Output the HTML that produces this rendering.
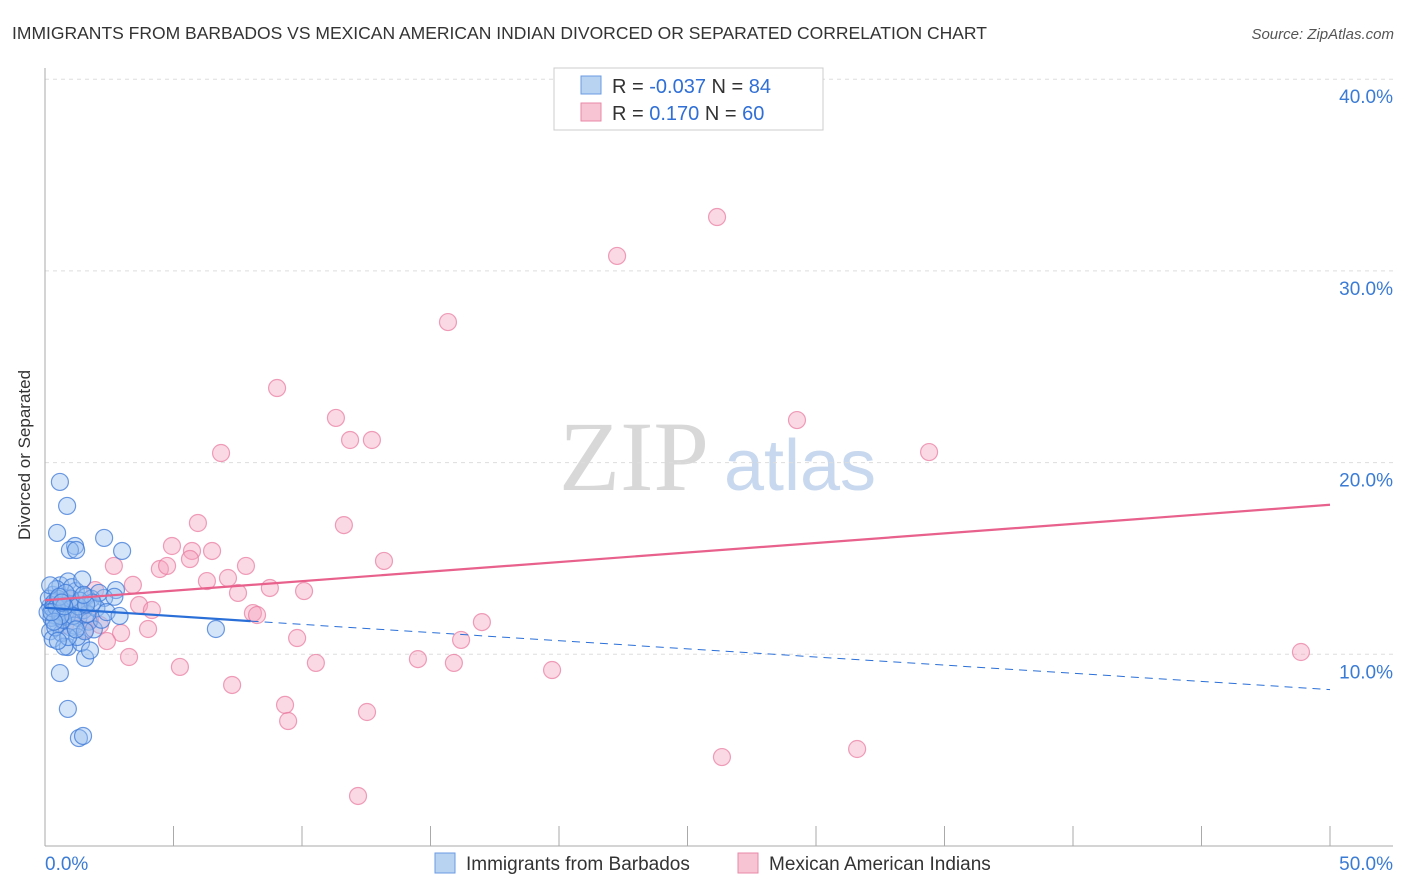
<!DOCTYPE html>
<html><head><meta charset="utf-8"><style>
body{margin:0;background:#fff;font-family:"Liberation Sans",sans-serif}
svg{display:block}
</style></head><body>
<svg id="c" width="1406" height="892" xmlns="http://www.w3.org/2000/svg">
<text x="12" y="39" font-size="17.5" fill="#333">IMMIGRANTS FROM BARBADOS VS MEXICAN AMERICAN INDIAN DIVORCED OR SEPARATED CORRELATION CHART</text>
<text x="1394" y="39" font-size="15" fill="#555" font-style="italic" text-anchor="end">Source: ZipAtlas.com</text>
<text x="634" y="490" font-size="100" fill="#d8d8d8" font-family="Liberation Serif,serif" text-anchor="middle">ZIP</text>
<text x="800" y="490" font-size="72" fill="#c8d8ee" text-anchor="middle">atlas</text>
<g id="grid"></g>
<g id="axes"></g>
<g id="pts"></g>
<g id="lines"></g>
<text x="30" y="455" font-size="17" fill="#333" transform="rotate(-90 30 455)" text-anchor="middle">Divorced or Separated</text>
<g>
<rect x="554" y="68" width="269" height="62" fill="#fff" stroke="#ccc"/>
<rect x="581" y="76" width="20" height="18" fill="#b8d2f2" stroke="#6a9be0"/>
<rect x="581" y="103" width="20" height="18" fill="#f7c4d3" stroke="#e88aa8"/>
<text x="612" y="93" font-size="20" fill="#333">R = <tspan fill="#2f6fd6">-0.037</tspan>   N = <tspan fill="#2f6fd6">84</tspan></text>
<text x="612" y="120" font-size="20" fill="#333">R =   <tspan fill="#2f6fd6">0.170</tspan>   N = <tspan fill="#2f6fd6">60</tspan></text>
</g>
<g>
<rect x="435" y="853" width="20" height="20" fill="#b8d2f2" stroke="#6a9be0"/>
<text x="466" y="870" font-size="19" fill="#333">Immigrants from Barbados</text>
<rect x="738" y="853" width="20" height="20" fill="#f7c4d3" stroke="#e88aa8"/>
<text x="769" y="870" font-size="19" fill="#333">Mexican American Indians</text>
</g>
</svg>
<script>
const blueX=[0.58,0.86,0.47,1.17,0.97,1.21,2.30,3.00,2.76,2.30,6.65,0.58,0.89,1.32,1.48,1.56,0.89,0.2,0.3,0.4,0.5,0.6,0.2,0.3,0.7,0.8,0.9,1.0,1.1,1.2,1.3,1.4,1.5,1.6,1.7,1.8,1.9,2.0,2.1,2.2,0.15,0.25,0.35,0.45,0.55,0.65,0.75,0.85,0.95,1.05,1.15,1.25,1.35,1.45,1.55,1.65,1.75,1.85,0.1,0.5,0.6,0.4,1.0,0.7,0.2,1.3,2.4,2.7,2.9,0.9,0.3,0.8,1.1,0.5,0.45,0.6,0.35,1.2,1.6,0.25,0.55,0.75,1.5,0.65];
const blueY=[18.99,17.74,16.33,15.65,15.44,15.44,16.07,15.39,13.35,12.94,11.32,9.02,7.15,5.63,5.74,9.81,10.38,12.5,13.1,12.0,11.6,13.6,11.2,10.8,12.8,12.2,13.8,11.4,12.6,13.3,11.9,10.6,12.3,13.0,11.7,12.9,11.3,12.4,13.2,11.8,12.9,11.9,12.7,13.4,12.2,11.1,10.4,12.0,12.6,13.5,11.5,10.9,12.8,13.9,11.2,12.1,10.2,12.7,12.2,12.9,12.4,11.4,12.9,11.8,13.6,12.5,12.2,13.0,12.0,10.9,12.4,13.2,12.0,10.7,12.45,12.0,11.7,11.3,12.6,12.2,13.0,12.5,13.1,12.7];
const pinkX=[26.15,22.26,15.68,9.03,11.32,11.87,12.72,29.26,6.85,34.40,5.95,11.63,4.94,6.50,5.72,5.64,7.82,13.19,4.47,4.75,2.68,3.42,6.30,7.12,7.51,8.75,10.08,3.66,4.16,8.09,8.25,2.96,4.01,9.81,16.19,17.00,2.41,3.27,5.25,10.54,14.51,15.91,19.73,7.28,9.34,9.46,12.53,26.34,31.60,12.18,48.87,2.14,1.75,1.36,0.97,0.58,0.39,1.95,1.56,0.78];
const pinkY=[32.81,30.78,27.33,23.89,22.33,21.18,21.18,22.22,20.50,20.55,16.85,16.74,15.65,15.39,15.39,14.97,14.61,14.87,14.45,14.61,14.61,13.62,13.82,13.98,13.20,13.46,13.30,12.57,12.31,12.15,12.05,11.11,11.32,10.85,10.75,11.68,10.69,9.86,9.34,9.55,9.75,9.55,9.18,8.40,7.36,6.52,6.99,4.64,5.06,2.61,10.12,11.53,11.79,12.21,12.83,12.05,12.57,13.35,11.27,11.53];
const yTicks=[10,20,30,40];
const xTickVals=[0,5,10,15,20,25,30,35,40,45,50];
const blueTrend=[12.43,11.73,8.16]; // at x=0, x=8, x=50
const pinkTrend=[12.82,17.80]; // at x=0, x=50
const NS="http://www.w3.org/2000/svg";
const sx=v=>45+v*25.7, sy=v=>846-v*19.17;
function mk(tag,attrs,parent){const e=document.createElementNS(NS,tag);for(const k in attrs)e.setAttribute(k,attrs[k]);document.getElementById(parent).appendChild(e);return e;}
yTicks.forEach(t=>{
 const g=mk('line',{x1:45,x2:1393,y1:sy(t),y2:sy(t),stroke:'#ddd','stroke-dasharray':'4,4'},'grid');
 
 
 const l=mk('text',{x:1393,y:sy(t)+24,'font-size':19,fill:'#3a7bd5','text-anchor':'end'},'grid');
 l.textContent=t.toFixed(1)+'%';
 
 
});
const ax=mk('line',{x1:45,x2:45,y1:68,y2:846,stroke:'#aaa'},'axes');


const xa=mk('line',{x1:45,x2:1393,y1:846,y2:846,stroke:'#aaa'},'axes');


xTickVals.forEach(t=>{
 const tk=mk('line',{x1:sx(t),x2:sx(t),y1:826,y2:846,stroke:'#aaa'},'axes');
 
 
});
[[0,'start',45],[50,'end',1393]].forEach(([v,a,x])=>{
 const l=mk('text',{x:x,y:870,'font-size':19,fill:'#3a7bd5','text-anchor':a},'axes');
 l.textContent=v.toFixed(1)+'%';
 
 
});
pinkX.forEach((x,i)=>{
 const c=mk('circle',{cx:sx(x),cy:sy(pinkY[i]),r:8.5,fill:'rgba(244,160,188,0.4)',stroke:'rgba(232,120,158,0.7)','stroke-width':1.2},'pts');
 
 
});
blueX.forEach((x,i)=>{
 const c=mk('circle',{cx:sx(x),cy:sy(blueY[i]),r:8.5,fill:'rgba(150,190,240,0.4)',stroke:'rgba(60,120,215,0.75)','stroke-width':1.2},'pts');
 
 
});
const pl=mk('line',{x1:sx(0),y1:sy(pinkTrend[0]),x2:sx(50),y2:sy(pinkTrend[1]),stroke:'#e8608c','stroke-width':2.2},'lines');


const bl=mk('line',{x1:sx(0),y1:sy(blueTrend[0]),x2:sx(8),y2:sy(blueTrend[1]),stroke:'#2a6fd8','stroke-width':2.2},'lines');


const bd=mk('line',{x1:sx(8),y1:sy(blueTrend[1]),x2:sx(50),y2:sy(blueTrend[2]),stroke:'#2a6fd8','stroke-width':1,'stroke-dasharray':'8,6'},'lines');


</script>
</body></html>
